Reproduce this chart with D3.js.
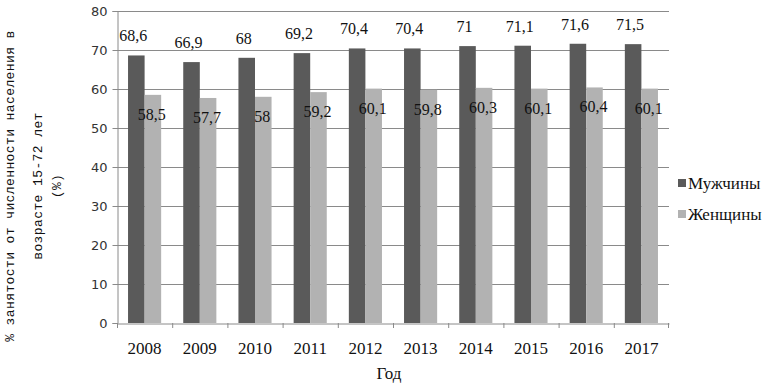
<!DOCTYPE html>
<html lang="ru">
<head>
<meta charset="utf-8">
<title>Занятость</title>
<script src="https://d3js.org/d3.v7.min.js"></script>
<style>
  body { margin: 0; background: #fff; }
  svg { display: block; }
  .serif { font-family: "Liberation Serif", "Times New Roman", serif; }
</style>
</head>
<body>
<script>
// data
var years = ["2008", "2009", "2010", "2011", "2012", "2013", "2014", "2015", "2016", "2017"];
var men = [68.6, 66.9, 68, 69.2, 70.4, 70.4, 71, 71.1, 71.6, 71.5];
var women = [58.5, 57.7, 58, 59.2, 60.1, 59.8, 60.3, 60.1, 60.4, 60.1];
var seriesNames = ["Мужчины", "Женщины"];
var yTicks = [0, 10, 20, 30, 40, 50, 60, 70, 80];

var W = 768, H = 384;
var margin = {top: 11, right: 99, bottom: 61, left: 117};
var w = W - margin.left - margin.right;
var h = H - margin.top - margin.bottom;

var colors = ["#5a5a5a", "#b2b2b2"];

var svg = d3.select("body").append("svg")
  .attr("width", W)
  .attr("height", H);

var g = svg.append("g")
  .attr("transform", "translate(" + margin.left + "," + margin.top + ")");

var x = d3.scaleBand().domain(years).range([0, w]).paddingInner(0.4).paddingOuter(0.2);
var xCat = d3.scaleBand().domain(years).range([0, w]);
var xSub = d3.scaleBand().domain([0, 1]).range([0, x.bandwidth()]);
var y = d3.scaleLinear().domain([0, 80]).range([h, 0]);

// gridlines
g.selectAll(".grid").data(yTicks.slice(1)).enter().append("line")
  .attr("x1", 0).attr("x2", w)
  .attr("y1", function(d) { return y(d) + 0.5; })
  .attr("y2", function(d) { return y(d) + 0.5; })
  .attr("stroke", "#8a8a8a");

// y axis
var yAxis = d3.axisLeft(y).tickValues(yTicks).tickSize(5).tickPadding(5);
var ya = g.append("g").attr("transform", "translate(0.5,0)").call(yAxis);
ya.attr("font-family", null).attr("font-size", null);
ya.select(".domain").attr("stroke", "#8a8a8a");
ya.selectAll(".tick line").attr("stroke", "#8a8a8a");
ya.selectAll("text")
  .style("font-family", "'DejaVu Sans', sans-serif")
  .style("font-size", "13px")
  .attr("fill", "#333");

// bars
var data = years.map(function(yr, i) { return {year: yr, vals: [men[i], women[i]]}; });
var groups = g.selectAll(".grp").data(data).enter().append("g")
  .attr("transform", function(d) { return "translate(" + x(d.year) + ",0)"; });

groups.selectAll("rect").data(function(d) { return d.vals; }).enter().append("rect")
  .attr("x", function(d, i) { return xSub(i); })
  .attr("width", xSub.bandwidth())
  .attr("y", function(d) { return y(d); })
  .attr("height", function(d) { return h - y(d); })
  .attr("fill", function(d, i) { return colors[i]; });

// value labels
groups.selectAll(".lbl").data(function(d) { return d.vals; }).enter().append("text")
  .attr("class", "serif")
  .attr("x", function(d, i) { return xSub(i) + xSub.bandwidth() / 2 - (i === 0 ? 3 : 1); })
  .attr("y", function(d, i) { return i === 0 ? y(d) - 14 : y(d) + 25; })
  .attr("text-anchor", "middle")
  .style("font-size", "16px")
  .attr("fill", "#111")
  .text(function(d) { return String(d).replace(".", ","); });

// x axis
var xAxis = d3.axisBottom(xCat).tickSize(0).tickPadding(18);
var xa = g.append("g").attr("transform", "translate(0," + (h + 0.5) + ")").call(xAxis);
xa.attr("font-family", null).attr("font-size", null);
xa.select(".domain").attr("stroke", "#8a8a8a");
xa.selectAll("text")
  .attr("class", "serif")
  .style("font-size", "17px")
  .attr("fill", "#111");

// category boundary ticks
g.selectAll(".xt").data(years.concat(["end"])).enter().append("line")
  .attr("x1", function(d, i) { return i < years.length ? xCat(d) + 0.5 : w - 0.5; })
  .attr("x2", function(d, i) { return i < years.length ? xCat(d) + 0.5 : w - 0.5; })
  .attr("y1", h).attr("y2", h + 5)
  .attr("stroke", "#8a8a8a");

// x title
svg.append("text")
  .attr("class", "serif")
  .attr("x", 389).attr("y", 379)
  .attr("text-anchor", "middle")
  .style("font-size", "17px")
  .attr("fill", "#111")
  .text("Год");

// y title
var yTitle = ["% занятости от численности населения в", "возрасте 15-72 лет", "(%)"];
var yTitlePos = [14, 42, 61];
svg.selectAll(".yt").data(yTitle).enter().append("text")
  .attr("transform", function(d, i) { return "translate(" + yTitlePos[i] + ",186) rotate(-90)"; })
  .attr("text-anchor", "middle")
  .style("font-family", "'Liberation Mono', 'DejaVu Sans Mono', monospace")
  .style("font-size", "13px")
  .style("letter-spacing", "0.4px")
  .attr("fill", "#111")
  .text(function(d) { return d; });

// legend
var legend = svg.selectAll(".leg").data(seriesNames).enter().append("g")
  .attr("transform", function(d, i) { return "translate(678," + (183 + i * 31) + ")"; });
legend.append("rect")
  .attr("x", 0).attr("y", -4).attr("width", 8).attr("height", 8)
  .attr("fill", function(d, i) { return colors[i]; });
legend.append("text")
  .attr("class", "serif")
  .attr("x", 10).attr("y", 6)
  .style("font-size", "17px")
  .attr("fill", "#111")
  .text(function(d) { return d; });
</script>
</body>
</html>
